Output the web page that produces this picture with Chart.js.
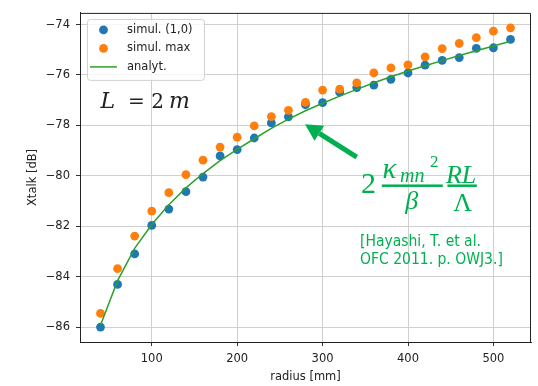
<!DOCTYPE html>
<html lang="en">
<head>
<meta charset="UTF-8">
<title>Xtalk vs radius</title>
<script src="https://cdn.jsdelivr.net/npm/chart.js"></script>
<style>
  html, body { margin: 0; padding: 0; background: #fff; }
  #wrap { width: 538px; height: 386px; }
</style>
</head>
<body>
<div id="wrap"><canvas id="xtalkChart" width="538" height="386"></canvas></div>
<script>
// bend radius [mm]
const radius = [40, 60, 80, 100, 120, 140, 160, 180, 200, 220, 240, 260, 280,
                300, 320, 340, 360, 380, 400, 420, 440, 460, 480, 500, 520];
// crosstalk [dB]
const simulMode10 = [-86.00, -84.31, -83.10, -81.97, -81.32, -80.63, -80.05, -79.21, -78.96,
                     -78.50, -77.90, -77.66, -77.18, -77.10, -76.68, -76.50, -76.40, -76.17,
                     -75.92, -75.61, -75.42, -75.31, -74.94, -74.92, -74.59];
const simulMax = [-85.46, -83.68, -82.39, -81.40, -80.67, -79.95, -79.38, -78.86, -78.47,
                  -78.02, -77.65, -77.40, -77.09, -76.60, -76.56, -76.31, -75.92, -75.72,
                  -75.60, -75.28, -74.95, -74.75, -74.52, -74.26, -74.13];
const analyt = [-85.93, -84.16, -82.88, -81.93, -81.15, -80.48, -79.91, -79.40, -78.95,
                -78.53, -78.12, -77.75, -77.42, -77.12, -76.84, -76.57, -76.31, -76.07,
                -75.84, -75.63, -75.43, -75.23, -75.04, -74.85, -74.66];
const xTicks = [100, 200, 300, 400, 500];
const yTicks = [-86, -84, -82, -80, -78, -76, -74];
const seriesLabels = ['simul. (1,0)', 'simul. max', 'analyt.'];

const C_BLUE = '#1f77b4', C_ORANGE = '#ff7f0e', C_GREEN = '#2ca02c', C_NOTE = '#00b050';
const TXT = '#222';
const FONT = '"DejaVu Sans", sans-serif';

// matplotlib-like 5% margins around the data
function pad(lo, hi) { const m = (hi - lo) * 0.05; return [lo - m, hi + m]; }
const [xMin, xMax] = pad(Math.min(...radius), Math.max(...radius));
const allY = simulMode10.concat(simulMax, analyt);
const [yMin, yMax] = pad(Math.min(...allY), Math.max(...allY));

const pts = arr => radius.map((r, i) => ({ x: r, y: arr[i] }));
const minus = v => String(v).replace('-', '\u2212');

// legend box + top/right spines + the annotations
const extras = {
  id: 'extras',
  afterDraw(chart) {
    const { ctx, chartArea: a, scales: { x, y } } = chart;
    ctx.save();

    // spines
    ctx.strokeStyle = '#222';
    ctx.lineWidth = 1;
    ctx.beginPath();
    ctx.moveTo(a.left, a.top + 0.5);
    ctx.lineTo(a.right - 0.5, a.top + 0.5);
    ctx.lineTo(a.right - 0.5, a.bottom);
    ctx.stroke();

    // legend
    const bx = a.left + 7, by = a.top + 6, bw = 117, bh = 61;
    ctx.fillStyle = 'rgba(255,255,255,0.8)';
    ctx.strokeStyle = 'rgba(204,204,204,0.9)';
    ctx.beginPath();
    ctx.roundRect(bx + 0.5, by + 0.5, bw, bh, 3);
    ctx.fill();
    ctx.stroke();
    ctx.font = '11.5px ' + FONT;
    ctx.textBaseline = 'middle';
    ctx.fillStyle = TXT;
    const rows = [by + 11, by + 29.5, by + 48];
    seriesLabels.forEach((t, i) => ctx.fillText(t, bx + 40, rows[i]));
    ctx.fillStyle = C_BLUE;
    ctx.beginPath(); ctx.arc(bx + 16.5, rows[0], 4.4, 0, 2 * Math.PI); ctx.fill();
    ctx.fillStyle = C_ORANGE;
    ctx.beginPath(); ctx.arc(bx + 16.5, rows[1], 4.4, 0, 2 * Math.PI); ctx.fill();
    ctx.strokeStyle = C_GREEN; ctx.lineWidth = 1.5;
    ctx.beginPath(); ctx.moveTo(bx + 3, rows[2]); ctx.lineTo(bx + 30, rows[2]); ctx.stroke();

    // "L = 2 m"
    let ax = x.getPixelForValue(40), ay = y.getPixelForValue(-77.3);
    ctx.fillStyle = TXT;
    ctx.textBaseline = 'alphabetic';
    ctx.textAlign = 'left';
    ctx.font = 'italic 22px "DejaVu Serif", serif';
    ctx.fillText('L', ax, ay);
    ctx.textAlign = 'center';
    ctx.fillText('m', ax + 79, ay);
    ctx.font = '20px "DejaVu Serif", serif';
    ctx.fillText('=', ax + 36, ay);
    ctx.fillText('2', ax + 57, ay);

    // arrow pointing at the analytic curve
    const tx = x.getPixelForValue(340), ty = y.getPixelForValue(-79.26);
    const hx = x.getPixelForValue(279.4), hy = y.getPixelForValue(-77.95);
    const ang = Math.atan2(hy - ty, hx - tx), hl = 17, hw = 9;
    const bxp = hx - hl * Math.cos(ang), byp = hy - hl * Math.sin(ang);
    ctx.strokeStyle = C_NOTE; ctx.fillStyle = C_NOTE;
    ctx.lineWidth = 5;
    ctx.beginPath(); ctx.moveTo(tx, ty); ctx.lineTo(bxp, byp); ctx.stroke();
    ctx.beginPath();
    ctx.moveTo(hx, hy);
    ctx.lineTo(bxp + hw * Math.sin(ang), byp - hw * Math.cos(ang));
    ctx.lineTo(bxp - hw * Math.sin(ang), byp + hw * Math.cos(ang));
    ctx.closePath(); ctx.fill();

    // 2 kappa_mn^2 / beta * RL / Lambda
    ax = x.getPixelForValue(345); ay = y.getPixelForValue(-80.7);
    ctx.textAlign = 'left';
    ctx.font = '30px "Liberation Serif", serif';
    ctx.fillText('2', ax, ay);
    ctx.font = 'italic 29px "Liberation Serif", serif';
    ctx.fillText('\u03ba', ax + 21.5, ay - 15.5);
    ctx.font = 'italic 20px "Liberation Serif", serif';
    ctx.fillText('mn', ax + 39, ay - 11.5);
    ctx.font = '17px "Liberation Serif", serif';
    ctx.fillText('2', ax + 69, ay - 26.5);
    ctx.fillRect(ax + 20.8, ay - 9, 61, 2.5);
    ctx.fillRect(ax + 86.4, ay - 9, 29.4, 2.5);
    ctx.textAlign = 'center';
    ctx.font = 'italic 26px "Liberation Serif", serif';
    ctx.fillText('\u03b2', ax + 50.8, ay + 15.5);
    ctx.fillText('RL', ax + 100.1, ay - 10.5);
    ctx.font = '26px "Liberation Serif", serif';
    ctx.fillText('\u039b', ax + 101.6, ay + 17.8);

    // reference
    ctx.textAlign = 'left';
    ctx.textBaseline = 'middle';
    ctx.font = '15.5px "DejaVu Sans Condensed", "DejaVu Sans", sans-serif';
    ctx.fillText('[Hayashi, T. et al.', x.getPixelForValue(343.8), y.getPixelForValue(-82.63), 128);
    ctx.fillText('OFC 2011. p. OWJ3.]', x.getPixelForValue(343.8), y.getPixelForValue(-83.33), 148);

    ctx.restore();
  }
};

new Chart(document.getElementById('xtalkChart'), {
  type: 'scatter',
  data: {
    datasets: [
      { label: seriesLabels[0], data: pts(simulMode10), backgroundColor: C_BLUE,
        pointRadius: 4.4, pointBorderWidth: 0, order: 3 },
      { label: seriesLabels[1], data: pts(simulMax), backgroundColor: C_ORANGE,
        pointRadius: 4.4, pointBorderWidth: 0, order: 2 },
      { label: seriesLabels[2], data: pts(analyt), showLine: true, borderColor: C_GREEN,
        borderWidth: 1.5, pointRadius: 0, tension: 0, order: 1 }
    ]
  },
  options: {
    responsive: false,
    animation: false,
    events: [],
    layout: { padding: { left: 0, right: 7, top: 6, bottom: 0 } },
    plugins: { legend: { display: false }, tooltip: { enabled: false } },
    scales: {
      x: {
        type: 'linear', min: xMin, max: xMax,
        afterBuildTicks: axis => { axis.ticks = xTicks.map(v => ({ value: v })); },
        afterFit: axis => { axis.height = 44; },
        grid: { color: '#cfcfcf', lineWidth: 1, tickLength: 4, tickColor: '#333' },
        border: { color: '#222', width: 1 },
        ticks: { color: TXT, font: { family: FONT, size: 11.5 }, padding: 6.5, maxRotation: 0 },
        title: { display: true, text: 'radius [mm]', color: TXT,
                 font: { family: FONT, size: 11.5 }, padding: { top: 0, bottom: 2 } }
      },
      y: {
        type: 'linear', min: yMin, max: yMax,
        afterBuildTicks: axis => { axis.ticks = yTicks.map(v => ({ value: v })); },
        afterFit: axis => { axis.width = 80; },
        grid: { color: '#cfcfcf', lineWidth: 1, tickLength: 4, tickColor: '#333' },
        border: { color: '#222', width: 1 },
        ticks: { color: TXT, font: { family: FONT, size: 11.5 }, padding: 6,
                 callback: v => minus(v) },
        title: { display: true, text: 'Xtalk [dB]', color: TXT,
                 font: { family: FONT, size: 11.5 }, padding: { top: 26, bottom: 0 } }
      }
    }
  },
  plugins: [extras]
});
</script>
</body>
</html>
